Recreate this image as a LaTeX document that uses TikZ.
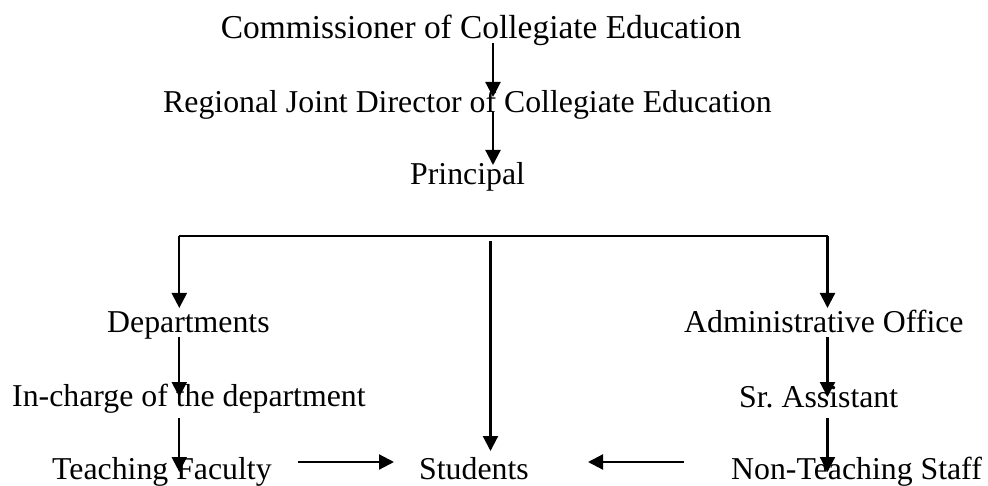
\documentclass[tikz,border=0pt]{standalone}
\usepackage{fontspec}
\setmainfont{Liberation Serif}
\usetikzlibrary{arrows.meta}
\begin{document}
\begin{tikzpicture}[x=1pt,y=-1pt,
  lbl/.style={anchor=base west, inner sep=0pt, font=\fontsize{31.8}{36}\selectfont},
  toplbl/.style={lbl, font=\fontsize{33.4}{38}\selectfont},
  conn/.style={line width=2.2pt},
  arr/.style={conn, -{Triangle[width=15pt,length=15pt]}}]
\useasboundingbox (0,0) rectangle (988,486);

% titles of the chart
\node[toplbl] (comm) at (220.6,39) {Commissioner of Collegiate Education};
\node[lbl] (rjd)  at (163,113) {Regional Joint Director of Collegiate Education};
\node[lbl] (prin) at (410,185) {Principal};

% left branch
\node[lbl] (dept) at (107,333) {Departments};
\node[lbl] (inch) at (12,406) {In-charge of the department};
\node[lbl] (teach) at (52,479) {Teaching Faculty};

% centre
\node[lbl] (stud) at (419,479) {Students};

% right branch
\node[lbl] (admin) at (684,333) {Administrative Office};
\node[lbl] (srasst) at (739,407) {Sr.\ Assistant};
\node[lbl] (nonteach) at (731,479) {Non-Teaching Staff};

% arrow end points
\coordinate (c1a) at (493,43);   \coordinate (c1b) at (493,97);
\coordinate (c2a) at (493,112);  \coordinate (c2b) at (493,165);
\coordinate (busL) at (179.3,235.7);
\coordinate (busR) at (827.5,235.7);
\coordinate (deptIn) at (179.3,308);
\coordinate (adminIn) at (827.5,308);
\coordinate (midA) at (490.5,240.7); \coordinate (midB) at (490.5,451);
\coordinate (l1a) at (179.3,337); \coordinate (l1b) at (179.3,397);
\coordinate (l2a) at (179.3,418); \coordinate (l2b) at (179.3,472);
\coordinate (r1a) at (827.5,337); \coordinate (r1b) at (827.5,397);
\coordinate (r2a) at (827.5,418); \coordinate (r2b) at (827.5,472);
\coordinate (hLa) at (298,462); \coordinate (hLb) at (394,462);
\coordinate (hRa) at (684,462); \coordinate (hRb) at (588,462);

% chain of command
\draw[arr] (c1a) -- (c1b);
\draw[arr] (c2a) -- (c2b);

% distribution bar below the Principal
\draw[conn] (busL) -- (busR);
\draw[arr] (busL) -- (deptIn);
\draw[arr] (busR) -- (adminIn);
\draw[arr] (midA) -- (midB);

% left and right columns
\draw[arr] (l1a) -- (l1b);
\draw[arr] (l2a) -- (l2b);
\draw[arr] (r1a) -- (r1b);
\draw[arr] (r2a) -- (r2b);

% towards the students
\draw[arr] (hLa) -- (hLb);
\draw[arr] (hRa) -- (hRb);
\end{tikzpicture}
\end{document}
